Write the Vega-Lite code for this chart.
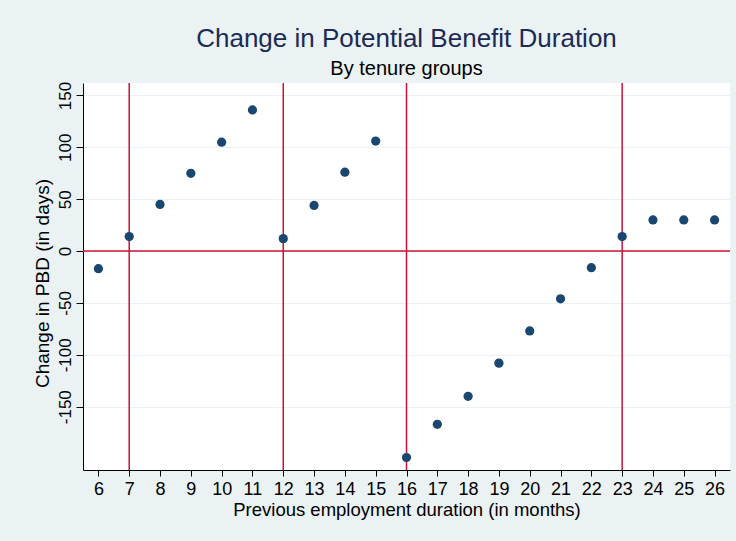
{
  "$schema": "https://vega.github.io/schema/vega-lite/v6.json",
  "width": 647,
  "height": 387,
  "autosize": "none",
  "padding": {"left": 83, "top": 83, "right": 6, "bottom": 71},
  "background": "#EAF2F3",
  "config": {
    "view": {"stroke": null, "fill": "#FFFFFF"},
    "font": "Liberation Sans",
    "axis": {
      "domainColor": "#000000",
      "tickColor": "#000000",
      "labelColor": "#000000",
      "titleColor": "#000000",
      "labelFont": "Liberation Sans",
      "titleFont": "Liberation Sans",
      "titleFontWeight": "normal",
      "gridColor": "#EAF2F3",
      "gridWidth": 1.2,
      "labelOverlap": false
    },
    "axisX": {
      "values": [6,7,8,9,10,11,12,13,14,15,16,17,18,19,20,21,22,23,24,25,26],
      "tickCount": 21,
      "grid": false,
      "tickSize": 6,
      "labelFontSize": 18,
      "labelPadding": 4,
      "titleFontSize": 18.5,
      "titlePadding": 2
    },
    "axisY": {
      "values": [-150, -100, -50, 0, 50, 100, 150],
      "labelExpr": "'' + datum.value",
      "grid": true,
      "tickSize": 7,
      "labelAngle": -90,
      "labelAlign": "center",
      "labelBaseline": "bottom",
      "labelFontSize": 17,
      "labelPadding": 2,
      "titleFontSize": 19,
      "titlePadding": 4,
      "titleY": 200
    }
  },
  "title": {
    "text": "Change in Potential Benefit Duration",
    "subtitle": "By tenure groups",
    "anchor": "middle",
    "frame": "group",
    "font": "Liberation Sans",
    "fontSize": 26,
    "fontWeight": "normal",
    "color": "#1C2B55",
    "subtitleFont": "Liberation Sans",
    "subtitleFontSize": 20,
    "subtitleColor": "#000000",
    "subtitlePadding": 7,
    "offset": 2
  },
  "datasets": {
    "points": [
      {"months": 6, "change": -17},
      {"months": 7, "change": 14},
      {"months": 8, "change": 45},
      {"months": 9, "change": 75},
      {"months": 10, "change": 105},
      {"months": 11, "change": 136},
      {"months": 12, "change": 12},
      {"months": 13, "change": 44},
      {"months": 14, "change": 76},
      {"months": 15, "change": 106},
      {"months": 16, "change": -199},
      {"months": 17, "change": -167},
      {"months": 18, "change": -140},
      {"months": 19, "change": -108},
      {"months": 20, "change": -77},
      {"months": 21, "change": -46},
      {"months": 22, "change": -16},
      {"months": 23, "change": 14},
      {"months": 24, "change": 30},
      {"months": 25, "change": 30},
      {"months": 26, "change": 30}
    ],
    "vlines": [
      {"months": 7},
      {"months": 12},
      {"months": 16},
      {"months": 23}
    ],
    "hlines": [
      {"change": 0}
    ]
  },
  "layer": [
    {
      "data": {"name": "points"},
      "mark": {"type": "point", "opacity": 0},
      "encoding": {
        "x": {
          "field": "months",
          "type": "quantitative",
          "scale": {"domain": [5.5, 26.5], "nice": false, "zero": false},
          "axis": {
            "values": [6,7,8,9,10,11,12,13,14,15,16,17,18,19,20,21,22,23,24,25,26],
            "title": "Previous employment duration (in months)"
          }
        },
        "y": {
          "field": "change",
          "type": "quantitative",
          "scale": {"domain": [-211, 162], "nice": false, "zero": false},
          "axis": {
            "values": [-150, -100, -50, 0, 50, 100, 150],
            "title": "Change in PBD (in days)"
          }
        }
      }
    },
    {
      "data": {"name": "vlines"},
      "mark": {"type": "rule", "color": "#CC1236", "strokeWidth": 1.5},
      "encoding": {
        "x": {
          "field": "months",
          "type": "quantitative",
          "axis": {
            "values": [6,7,8,9,10,11,12,13,14,15,16,17,18,19,20,21,22,23,24,25,26],
            "title": "Previous employment duration (in months)"
          }
        }
      }
    },
    {
      "data": {"name": "hlines"},
      "mark": {"type": "rule", "color": "#CC1236", "strokeWidth": 1.5},
      "encoding": {
        "y": {
          "field": "change",
          "type": "quantitative",
          "axis": {
            "values": [-150, -100, -50, 0, 50, 100, 150],
            "title": "Change in PBD (in days)"
          }
        }
      }
    },
    {
      "data": {"name": "points"},
      "mark": {"type": "circle", "color": "#1A476F", "opacity": 1, "size": 85},
      "encoding": {
        "x": {
          "field": "months",
          "type": "quantitative",
          "axis": {
            "values": [6,7,8,9,10,11,12,13,14,15,16,17,18,19,20,21,22,23,24,25,26],
            "title": "Previous employment duration (in months)"
          }
        },
        "y": {
          "field": "change",
          "type": "quantitative",
          "axis": {
            "values": [-150, -100, -50, 0, 50, 100, 150],
            "title": "Change in PBD (in days)"
          }
        }
      }
    }
  ]
}
